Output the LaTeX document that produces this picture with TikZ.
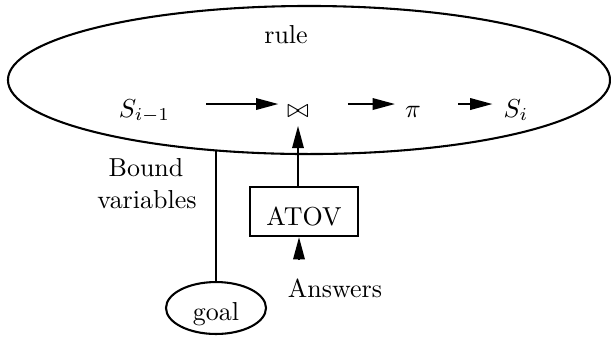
\documentclass[tikz,border=0pt]{standalone}
\usetikzlibrary{arrows.meta,shapes.geometric}
\begin{document}
\begin{tikzpicture}[x=0.385pt,y=-0.385pt,
  line width=0.8pt,
  arr/.style={-{Triangle[length=8.6pt,width=4.4pt]}},
  txt/.style={inner sep=0pt,anchor=base},
  boxnode/.style={draw,rectangle,minimum width=41.6pt,minimum height=18.9pt,inner sep=0pt},
  ovalnode/.style={draw,ellipse,minimum width=38.5pt,minimum height=20pt,inner sep=0pt}]
\useasboundingbox (0,0) rectangle (611,339);
% big rule ellipse
\draw (309,80) ellipse [x radius=115.9pt, y radius=28.5pt];
\node[txt] (rule) at (286,43) {rule};
\node[txt] (sprev) at (144.5,117) {$S_{i-1}$};
\node[txt] (join) at (298,117) {$\bowtie$};
\node[txt] (proj) at (413,117) {$\pi$};
\node[txt] (snext) at (516,117) {$S_i$};
\draw[arr] ([xshift=13.5pt,yshift=5pt]sprev.base east) -- ([xshift=-3pt,yshift=5pt]join.base west);
\draw[arr] ([xshift=14.6pt,yshift=5pt]join.base east) -- ([xshift=-3.5pt,yshift=5pt]proj.base west);
\draw[arr] ([xshift=13.9pt,yshift=5pt]proj.base east) -- ([xshift=-3.9pt,yshift=5pt]snext.base west);
% ATOV
\node[boxnode] (atov) at (304,211.5) {};
\node[txt] (atovt) at (304,225) {ATOV};
\draw[arr] (atov.north -| join) -- ([yshift=-3pt]join.south);
\coordinate (ans0) at (299,260);
\draw[arr] (ans0) -- (ans0 |- atov.south);
\node[txt] (answers) at (335,297) {Answers};
% goal
\node[ovalnode] (goal) at (216,308) {};
\node[txt] (goalt) at (216,320) {goal};
\coordinate (bv) at (216,150.5);
\draw (goal.north) -- (bv);
\node[txt] (bound) at (146,176) {Bound};
\node[txt] (vars) at (147,208) {variables};
\end{tikzpicture}
\end{document}
